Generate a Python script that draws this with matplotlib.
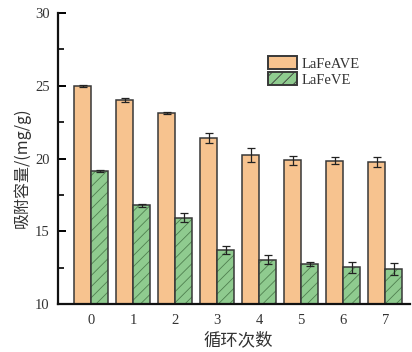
import matplotlib
matplotlib.use("Agg")
import matplotlib.pyplot as plt
import numpy as np
from matplotlib.ticker import MultipleLocator

cycles = ["0", "1", "2", "3", "4", "5", "6", "7"]
lafeave = [25.0, 24.03, 23.13, 21.42, 20.24, 19.87, 19.85, 19.74]
lafeave_err = [0.05, 0.13, 0.10, 0.35, 0.50, 0.32, 0.23, 0.35]
lafeve = [19.13, 16.78, 15.95, 13.74, 13.06, 12.77, 12.52, 12.42]
lafeve_err = [0.08, 0.10, 0.30, 0.28, 0.30, 0.12, 0.35, 0.42]

serif = ["Liberation Serif", "DejaVu Serif"]
cjk = ["Noto Sans CJK SC", "DejaVu Sans"]
plt.rcParams["hatch.linewidth"] = 0.6

fig = plt.figure(figsize=(4.12, 3.52), dpi=100)
ax = fig.add_axes([0.141, 0.136, 0.854, 0.827])

x = np.arange(len(cycles))
w = 0.40
edge = "#383838"
orange = "#F7C38F"
green = "#8FCB8F"

ax.bar(x, lafeave, width=-w, align="edge", color=orange, edgecolor=edge,
       linewidth=1.1, zorder=2)
# hatched fill with a softer hatch colour, then a dark outline on top
ax.bar(x, lafeve, width=w, align="edge", color=green, edgecolor="#4F7F4F",
       linewidth=0, hatch="///", zorder=2)
ax.bar(x, lafeve, width=w, align="edge", fill=False, edgecolor=edge,
       linewidth=1.1, zorder=2.1)
ax.errorbar(x - w / 2, lafeave, yerr=lafeave_err, fmt="none", ecolor="#222222",
            elinewidth=0.9, capsize=3, capthick=0.9, zorder=3)
ax.errorbar(x + w / 2, lafeve, yerr=lafeve_err, fmt="none", ecolor="#222222",
            elinewidth=0.9, capsize=3, capthick=0.9, zorder=3)

# legend proxies
h1 = plt.Rectangle((0, 0), 1, 1, facecolor=orange, edgecolor=edge, linewidth=1.4)
h2 = plt.Rectangle((0, 0), 1, 1, facecolor=green, edgecolor=edge, linewidth=1.4,
                   hatch="///")

ax.set_xlim(-0.79, 7.59)
ax.set_ylim(10, 30)
ax.set_xticks(x)
ax.set_xticklabels(cycles)
ax.yaxis.set_major_locator(MultipleLocator(5))
ax.yaxis.set_minor_locator(MultipleLocator(2.5))

for s in ("top", "right"):
    ax.spines[s].set_visible(False)
for s in ("left", "bottom"):
    ax.spines[s].set_linewidth(1.6)
    ax.spines[s].set_color("#111111")

ax.tick_params(axis="x", length=0, pad=7)
ax.tick_params(axis="y", which="major", length=6, width=1.4, direction="in", pad=6)
ax.tick_params(axis="y", which="minor", length=4, width=1.2, direction="in")
for lab in ax.get_xticklabels() + ax.get_yticklabels():
    lab.set_fontfamily(serif)
    lab.set_fontsize(10.5)
    lab.set_color("#333333")

ax.set_xlabel("循环次数", fontfamily=cjk, fontsize=12.5, color="#333333")
ax.xaxis.set_label_coords(0.513, -0.093)
ax.set_ylabel("吸附容量/(mg/g)", fontfamily=cjk, fontsize=11.5, color="#333333")
ax.yaxis.set_label_coords(-0.078, 0.47)

leg = ax.legend([h1, h2], ["LaFeAVE", "LaFeVE"], loc="upper left",
                bbox_to_anchor=(0.597, 0.851), frameon=False,
                prop={"family": serif, "size": 10.5}, handlelength=2.0,
                handleheight=1.0, handletextpad=0.3, labelspacing=0.1,
                borderaxespad=0, borderpad=0)
for t in leg.get_texts():
    t.set_color("#333333")

fig.savefig("out.png", dpi=100)
